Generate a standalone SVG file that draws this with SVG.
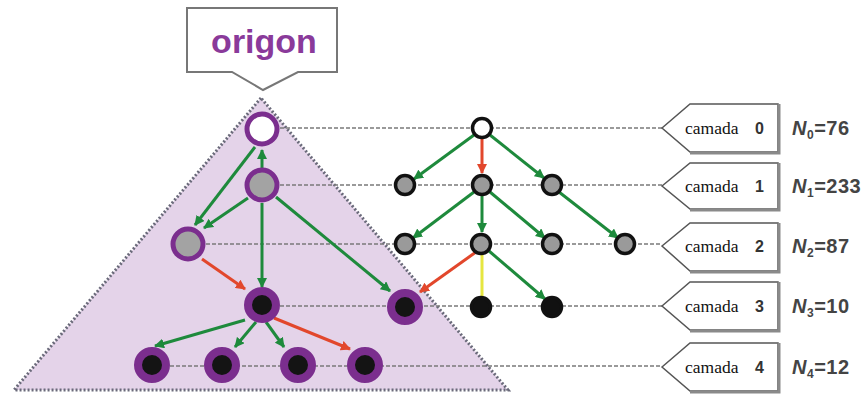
<svg xmlns="http://www.w3.org/2000/svg" width="863" height="394" viewBox="0 0 863 394">
<style>
.hl{stroke:#7a7a7a;stroke-width:1.5;stroke-dasharray:4 2;fill:none}
.g{stroke:#1e8a3c;stroke-width:3;fill:none}
.r{stroke:#e2472c;stroke-width:3;fill:none}
.y{stroke:#e6e640;stroke-width:3;fill:none}
.lp{fill:#a3a3a3;stroke:#7b2e8e;stroke-width:5}
.lw{fill:#ffffff;stroke:#7b2e8e;stroke-width:5}
.lb{fill:#141414;stroke:#7b2e8e;stroke-width:8}
.rw{fill:#ffffff;stroke:#111;stroke-width:3.5}
.rg{fill:#9a9a9a;stroke:#111;stroke-width:3.5}
.rb{fill:#111;stroke:#111;stroke-width:3.5}
.box{fill:#fff;stroke:#555;stroke-width:1.5}
.sh{fill:none;stroke:#8a8a8a;stroke-width:3}
.cam{font-family:"Liberation Serif",serif;font-size:17.5px;fill:#111}
.num{font-family:"Liberation Sans",Arial,sans-serif;font-weight:bold;font-size:16px;fill:#333}
.n{font-family:"Liberation Sans",Arial,sans-serif;font-weight:bold;font-size:20px;letter-spacing:0.5px;fill:#444}
</style>
<defs>
<marker id="ag" viewBox="0 0 10 10" refX="9" refY="5" markerWidth="10" markerHeight="10" markerUnits="userSpaceOnUse" orient="auto"><path d="M0,0 L10,5 L0,10 z" fill="#1e8a3c"/></marker>
<marker id="ar" viewBox="0 0 10 10" refX="9" refY="5" markerWidth="10" markerHeight="10" markerUnits="userSpaceOnUse" orient="auto"><path d="M0,0 L10,5 L0,10 z" fill="#e2472c"/></marker>
</defs>

<g id="triangle">
<polygon points="261,98 14,390 508,390" fill="#e4d3e9" stroke="#6a6a7a" stroke-width="3" stroke-dasharray="2 2"/>
</g>

<g id="origon">
<path d="M187,8 H337 V72 H298 L263,90 L232,72 H187 Z" fill="#fff" stroke="#777" stroke-width="2"/>
<text x="264" y="53" text-anchor="middle" font-family="'Liberation Sans',Arial,sans-serif" font-weight="bold" font-size="34" fill="#8a3a9a">origon</text>
</g>

<g id="layer-lines">
<line class="hl" x1="262" y1="128" x2="662" y2="128"/>
<line class="hl" x1="262" y1="185" x2="662" y2="185"/>
<line class="hl" x1="188" y1="244" x2="662" y2="244"/>
<line class="hl" x1="262" y1="306" x2="662" y2="306"/>
<line class="hl" x1="152" y1="366" x2="662" y2="366"/>
</g>

<g id="connectors">
<line class="g" x1="262" y1="168" x2="262" y2="150" marker-end="url(#ag)"/>
<line class="g" x1="255" y1="147" x2="195" y2="225" marker-end="url(#ag)"/>
<line class="g" x1="248" y1="198" x2="204" y2="228" marker-end="url(#ag)"/>
<line class="g" x1="262" y1="203" x2="262" y2="287" marker-end="url(#ag)"/>
<line class="g" x1="276" y1="197" x2="390" y2="291" marker-end="url(#ag)"/>
<line class="r" x1="202" y1="259" x2="245" y2="289" marker-end="url(#ar)"/>
<line class="g" x1="245" y1="320" x2="155" y2="346" marker-end="url(#ag)"/>
<line class="g" x1="256" y1="322" x2="235" y2="347" marker-end="url(#ag)"/>
<line class="g" x1="266" y1="322" x2="284" y2="347" marker-end="url(#ag)"/>
<line class="r" x1="274" y1="318" x2="350" y2="349" marker-end="url(#ar)"/>
<line class="r" x1="476" y1="252" x2="420" y2="292" marker-end="url(#ar)"/>
<line class="g" x1="474" y1="135" x2="414" y2="179" marker-end="url(#ag)"/>
<line class="r" x1="482" y1="139" x2="482" y2="173" marker-end="url(#ar)"/>
<line class="g" x1="490" y1="135" x2="544" y2="178" marker-end="url(#ag)"/>
<line class="g" x1="474" y1="192" x2="413" y2="238" marker-end="url(#ag)"/>
<line class="g" x1="482" y1="196" x2="482" y2="232" marker-end="url(#ag)"/>
<line class="g" x1="490" y1="192" x2="545" y2="238" marker-end="url(#ag)"/>
<line class="g" x1="559" y1="192" x2="618" y2="238" marker-end="url(#ag)"/>
<line class="y" x1="482" y1="255" x2="482" y2="296"/>
<line class="g" x1="489" y1="251" x2="545" y2="299" marker-end="url(#ag)"/>
</g>

<g id="L0"><circle class="lw" cx="262" cy="129" r="15"/></g>
<g id="L1"><circle class="lp" cx="262" cy="185" r="15"/></g>
<g id="L2a"><circle class="lp" cx="188" cy="244" r="15"/></g>
<g id="L3a"><circle class="lb" cx="262" cy="305" r="14"/></g>
<g id="L3b"><circle class="lb" cx="405" cy="307" r="14"/></g>
<g id="L4a"><circle class="lb" cx="152" cy="365" r="14"/></g>
<g id="L4b"><circle class="lb" cx="222" cy="365" r="14"/></g>
<g id="L4c"><circle class="lb" cx="298" cy="365" r="14"/></g>
<g id="L4d"><circle class="lb" cx="365" cy="365" r="14"/></g>

<g id="R0"><circle class="rw" cx="482" cy="128" r="9.5"/></g>
<g id="R1a"><circle class="rg" cx="405" cy="185" r="9.5"/></g>
<g id="R1b"><circle class="rg" cx="482" cy="185" r="9.5"/></g>
<g id="R1c"><circle class="rg" cx="552" cy="185" r="9.5"/></g>
<g id="R2a"><circle class="rg" cx="405" cy="244" r="9.5"/></g>
<g id="R2b"><circle class="rg" cx="481" cy="244" r="9.5"/></g>
<g id="R2c"><circle class="rg" cx="552" cy="244" r="9.5"/></g>
<g id="R2d"><circle class="rg" cx="625" cy="244" r="9.5"/></g>
<g id="R3a"><circle class="rb" cx="481" cy="307" r="9.5"/></g>
<g id="R3b"><circle class="rb" cx="552" cy="307" r="9.5"/></g>

<g id="label0">
<path class="box" d="M662,128 L690,104 H778 V152 H690 Z"/>
<path class="sh" d="M779,104 V153 H690"/>
<text class="cam" x="685" y="134">camada</text><text class="num" x="755" y="134">0</text>
<text class="n" x="792" y="135"><tspan font-style="italic">N</tspan><tspan font-size="12" dy="4">0</tspan><tspan dy="-4">=76</tspan></text>
</g>
<g id="label1">
<path class="box" d="M662,186 L690,163 H778 V209 H690 Z"/>
<path class="sh" d="M779,163 V210 H690"/>
<text class="cam" x="685" y="192">camada</text><text class="num" x="755" y="192">1</text>
<text class="n" x="792" y="193"><tspan font-style="italic">N</tspan><tspan font-size="12" dy="4">1</tspan><tspan dy="-4">=233</tspan></text>
</g>
<g id="label2">
<path class="box" d="M662,246 L690,223 H778 V271 H690 Z"/>
<path class="sh" d="M779,223 V272 H690"/>
<text class="cam" x="685" y="252">camada</text><text class="num" x="755" y="252">2</text>
<text class="n" x="792" y="253"><tspan font-style="italic">N</tspan><tspan font-size="12" dy="4">2</tspan><tspan dy="-4">=87</tspan></text>
</g>
<g id="label3">
<path class="box" d="M662,306 L690,282 H778 V330 H690 Z"/>
<path class="sh" d="M779,282 V331 H690"/>
<text class="cam" x="685" y="312">camada</text><text class="num" x="755" y="312">3</text>
<text class="n" x="792" y="313"><tspan font-style="italic">N</tspan><tspan font-size="12" dy="4">3</tspan><tspan dy="-4">=10</tspan></text>
</g>
<g id="label4">
<path class="box" d="M662,367 L690,343 H778 V391 H690 Z"/>
<path class="sh" d="M779,343 V392 H690"/>
<text class="cam" x="685" y="373">camada</text><text class="num" x="755" y="373">4</text>
<text class="n" x="792" y="374"><tspan font-style="italic">N</tspan><tspan font-size="12" dy="4">4</tspan><tspan dy="-4">=12</tspan></text>
</g>
</svg>
